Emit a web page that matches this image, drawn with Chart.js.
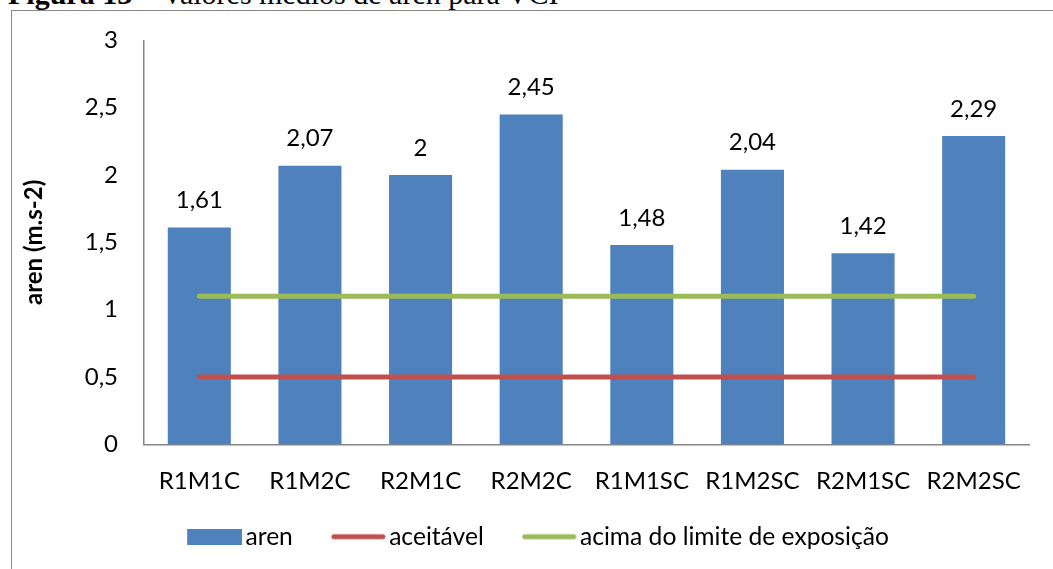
<!DOCTYPE html>
<html>
<head>
<meta charset="utf-8">
<script src="https://cdn.jsdelivr.net/npm/chart.js@4/dist/chart.umd.min.js"></script>
<style>
  html, body { margin: 0; padding: 0; background: #fff; overflow: hidden; }
  body { width: 1053px; height: 569px; position: relative; }
  #caption {
    position: absolute; left: 8px; top: -21px;
    font-family: "Liberation Serif", "Times New Roman", serif;
    font-size: 30px; line-height: 30px; white-space: nowrap; color: #000;
  }
  #frame {
    position: absolute; left: 11px; top: 10px; width: 1100px; height: 600px;
    border: 1.5px solid #8a8a8a; box-sizing: border-box;
  }
  #wrap { position: absolute; left: 0; top: 0; width: 1053px; height: 569px; }
</style>
</head>
<body>
<div id="caption"><b>Figura 13</b> – Valores médios de aren para VCI</div>
<div id="frame"></div>
<div id="wrap"><canvas id="c"></canvas></div>
<script>
// Mean aren per configuration, with the two exposure reference levels
const categories = ["R1M1C", "R1M2C", "R2M1C", "R2M2C", "R1M1SC", "R1M2SC", "R2M1SC", "R2M2SC"];
const arenValues = [1.61, 2.07, 2.00, 2.45, 1.48, 2.04, 1.42, 2.29];
const acceptableLevel = [0.5, 0.5, 0.5, 0.5, 0.5, 0.5, 0.5, 0.5];
const exposureLimit = [1.1, 1.1, 1.1, 1.1, 1.1, 1.1, 1.1, 1.1];
const yTicks = [0, 0.5, 1, 1.5, 2, 2.5, 3];

const FONT = "Lato, 'Open Sans', sans-serif";
const FS = 24;
const LEGEND_FS = 24.6;
const fmt = v => String(v).replace('.', ',');

// Legend swatches: a 55px mark placed at the right end of a wider transparent
// canvas, so the label text starts just after the mark.
const KEY_W = 55, KEY_CANVAS = 73;
function legendKey(kind, color) {
  const cv = document.createElement('canvas');
  cv.width = KEY_CANVAS; cv.height = 16;
  const g = cv.getContext('2d');
  const x0 = KEY_CANVAS - KEY_W;
  if (kind === 'rect') {
    g.fillStyle = color;
    g.fillRect(x0, 0, KEY_W, 16);
  } else {
    g.strokeStyle = color; g.lineWidth = 5; g.lineCap = 'round';
    g.beginPath(); g.moveTo(x0 + 3, 8); g.lineTo(KEY_CANVAS - 3, 8); g.stroke();
  }
  return cv;
}

// Writes each bar's value above it
const barValueLabels = {
  id: 'barValueLabels',
  afterDatasetsDraw(chart) {
    const ctx = chart.ctx;
    const meta = chart.getDatasetMeta(0);
    ctx.save();
    ctx.font = FS + "px " + FONT;
    ctx.fillStyle = "#000";
    ctx.textAlign = "center";
    ctx.textBaseline = "middle";
    meta.data.forEach((bar, i) => {
      ctx.fillText(fmt(arenValues[i]), bar.x, bar.y - 27);
    });
    ctx.restore();
  }
};

// Centre the legend row under the plot area rather than the whole canvas
const legendShift = {
  id: 'legendShift',
  afterLayout(chart) {
    const lg = chart.legend;
    if (lg) { lg.left += 19; lg.right += 19; }
  }
};

new Chart(document.getElementById('c'), {
  data: {
    labels: categories,
    datasets: [
      {
        type: 'bar', label: 'aren', data: arenValues,
        backgroundColor: '#4F81BD', categoryPercentage: 1, barPercentage: 0.57,
        pointStyle: legendKey('rect', '#4F81BD'), order: 2
      },
      {
        type: 'line', label: 'aceitável', data: acceptableLevel,
        borderColor: '#C0504D', backgroundColor: '#C0504D', borderWidth: 5,
        borderCapStyle: 'round', pointRadius: 0,
        pointStyle: legendKey('line', '#C0504D'), order: 1
      },
      {
        type: 'line', label: 'acima do limite de exposição', data: exposureLimit,
        borderColor: '#9BBB59', backgroundColor: '#9BBB59', borderWidth: 5,
        borderCapStyle: 'round', pointRadius: 0,
        pointStyle: legendKey('line', '#9BBB59'), order: 0
      }
    ]
  },
  options: {
    responsive: true, maintainAspectRatio: false, animation: false,
    devicePixelRatio: 1,
    layout: { padding: { left: 0, right: 24, top: 33, bottom: 10 } },
    plugins: {
      tooltip: { enabled: false },
      legend: {
        position: 'bottom',
        labels: {
          usePointStyle: true, pointStyleWidth: KEY_W, boxHeight: 16,
          padding: 29, color: '#000',
          font: { family: FONT, size: LEGEND_FS },
          sort: (a, b) => a.datasetIndex - b.datasetIndex
        }
      }
    },
    scales: {
      x: {
        offset: true,
        afterFit: s => { s.height = 51; },
        grid: { display: false, drawTicks: false },
        border: { display: true, color: '#868686', width: 1.5 },
        ticks: { color: '#000', padding: 22, font: { family: FONT, size: FS } }
      },
      y: {
        min: 0, max: 3,
        afterBuildTicks: s => { s.ticks = yTicks.map(v => ({ value: v })); },
        afterFit: s => { s.width = 144; },
        grid: { display: false, drawTicks: false },
        border: { display: true, color: '#868686', width: 1.5 },
        ticks: { color: '#000', padding: 26, font: { family: FONT, size: FS }, callback: v => fmt(v) },
        title: {
          display: true, text: 'aren (m.s-2)', color: '#000',
          font: { family: FONT, size: FS, weight: 'bold' }, padding: { top: 20, bottom: 0 }
        }
      }
    }
  },
  plugins: [barValueLabels, legendShift]
});
</script>
</body>
</html>
